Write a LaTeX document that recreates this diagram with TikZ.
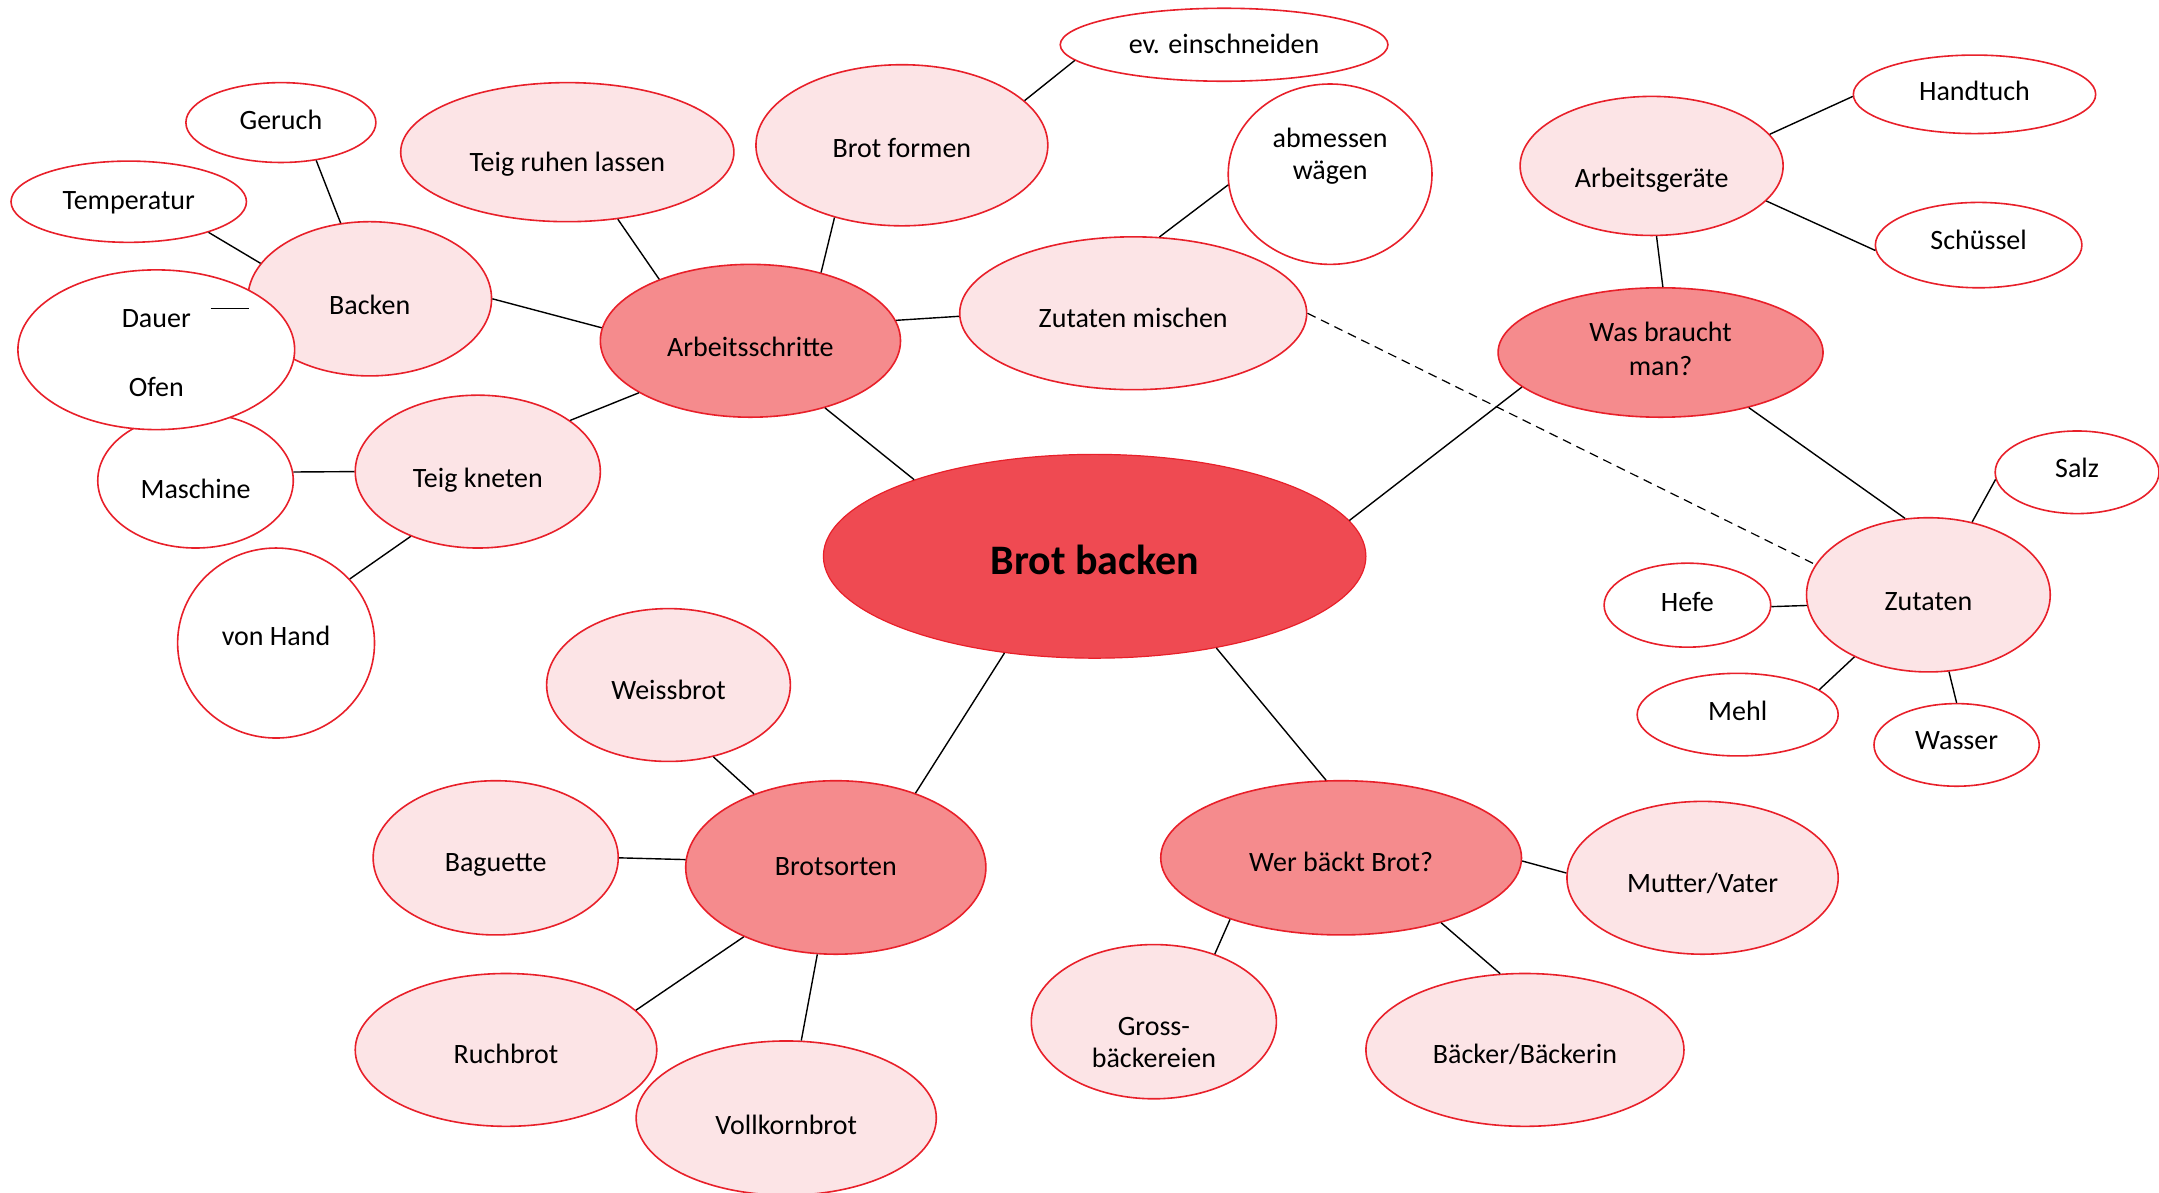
\documentclass[tikz,border=0pt]{standalone}
\usepackage{fontspec}
\setmainfont{Carlito}
\usetikzlibrary{shapes.geometric}
\definecolor{bred}{RGB}{232,32,42}
\definecolor{cdark}{RGB}{239,74,82}
\definecolor{cmid}{RGB}{245,139,141}
\definecolor{clight}{RGB}{252,228,230}
\newcommand\tx[2]{\raisebox{#1pt}[0pt][0pt]{\begin{tabular}{@{}c@{}}#2\end{tabular}}}
\tikzset{
  bub/.style={ellipse, draw=bred, line width=1.6pt, inner sep=0pt, align=center, font=\fontsize{28}{34}\selectfont},
  sz/.style 2 args={minimum width=#1*1.3769pt, minimum height=#2*1.3769pt},
  lvlzero/.style={bub, fill=cdark, line width=1.2pt, font=\fontsize{42}{50}\selectfont\bfseries},
  lvlone/.style={bub, fill=cmid},
  lvltwo/.style={bub, fill=clight},
  leaf/.style={bub, fill=white},
  con/.style={line width=1.4pt, black},
}
\begin{document}
\begin{tikzpicture}[x=1.3769pt, y=-1.3769pt]
\useasboundingbox (0,0) rectangle (1568,866);
% main
\node[lvlzero, sz={394}{148}] (bb) at (795,404) {\tx{-14}{Brot backen}};
\node[lvlone, sz={218}{111}] (ab) at (545,247.5) {\tx{-15.4}{Arbeitsschritte}};
\node[lvlone, sz={236}{94}] (wb) at (1206,256) {\tx{-5.8}{Was braucht\\man?}};
\node[lvlone, sz={218}{126}] (bs) at (607,630) {\tx{-7.8}{Brotsorten}};
\node[lvlone, sz={262}{112}] (wer) at (974,623) {\tx{-13.3}{Wer bäckt Brot?}};
% Arbeitsschritte branch
\node[lvltwo, sz={242}{101}] (tr) at (412,110.5) {\tx{-18.7}{Teig ruhen lassen}};
\node[lvltwo, sz={212}{117}] (bf) at (655,105.5) {\tx{-11.3}{Brot formen}};
\node[leaf, sz={238}{53}] (ev) at (889,32.5) {\tx{-8.5}{ev. einschneiden}};
\node[leaf, sz={148}{131}] (am) at (966,126.5) {\tx{10.8}{abmessen\\[-2pt]wägen}};
\node[lvltwo, sz={252}{111}] (zm) at (823,227.5) {\tx{-14}{Zutaten mischen}};
\node[leaf, sz={142}{98}] (ma) at (142,349) {\tx{-17.7}{Maschine}};
\node[lvltwo, sz={177}{112}] (ba) at (268.5,217) {\tx{-14.7}{Backen}};
\node[leaf, sz={138}{58}] (ge) at (204,89) {\tx{-6.4}{Geruch}};
\node[leaf, sz={171}{59}] (te) at (93.5,146.5) {\tx{-7.1}{Temperatur}};
\node[leaf, sz={201}{116}] (do) at (113.5,254) {\tx{-12}{Dauer\\[35pt]Ofen}};
\node[lvltwo, sz={178}{111}] (tk) at (347,342.5) {\tx{-15.4}{Teig kneten}};
\node[leaf, sz={143}{138}] (vh) at (200.5,467) {\tx{-1.9}{von Hand}};
% Was braucht man branch
\node[lvltwo, sz={191}{101}] (ag) at (1199.5,120.5) {\tx{-21.2}{Arbeitsgeräte}};
\node[leaf, sz={176}{57}] (ht) at (1434,68.5) {\tx{-5.8}{Handtuch}};
\node[leaf, sz={150}{62}] (sc) at (1437,178) {\tx{-3.7}{Schüssel}};
\node[lvltwo, sz={177}{112}] (zu) at (1400.5,432) {\tx{-14.7}{Zutaten}};
\node[leaf, sz={119}{60}] (sa) at (1508.5,343) {\tx{-5.1}{Salz}};
\node[leaf, sz={121}{61}] (he) at (1225.5,439.5) {\tx{-5.8}{Hefe}};
\node[leaf, sz={146}{60}] (me) at (1262,519) {\tx{-5.1}{Mehl}};
\node[leaf, sz={120}{60}] (wa) at (1421,541) {\tx{-3.7}{Wasser}};
% Brotsorten branch
\node[lvltwo, sz={177}{111}] (wei) at (485.5,497.5) {\tx{-14}{Weissbrot}};
\node[lvltwo, sz={178}{112}] (bag) at (360,623) {\tx{-13.3}{Baguette}};
\node[lvltwo, sz={219}{111}] (ru) at (367.5,762.5) {\tx{-12.6}{Ruchbrot}};
\node[lvltwo, sz={218}{112}] (vo) at (571,812) {\tx{-16.1}{Vollkornbrot}};
% Wer backt branch
\node[lvltwo, sz={178}{112}] (gr) at (838,742) {\tx{-29.2}{Gross-\\[-2pt]bäckereien}};
\node[lvltwo, sz={231}{111}] (bk) at (1107.5,762.5) {\tx{-12.6}{Bäcker/Bäckerin}};
\node[lvltwo, sz={197}{111}] (mu) at (1236.5,637.5) {\tx{-14}{Mutter/Vater}};
% stray line
\coordinate (s1) at (153,224);
\coordinate (s2) at (181,224);
\draw[con] (s1) -- (s2);
% connectors
\draw[con] (bb.157.4) -- (ab.-42.5);
\draw[con] (bb.8.6) -- (wb.194.8);
\draw[con] (bb.227.4) -- (bs.43.5);
\draw[con] (bb.-37.6) -- (wer.101.1);
\draw[con] (ab.146.6) -- (tr.-53);
\draw[con] (ab.44.7) -- (bf.227.6);
\draw[con] (ab.8.6) -- (zm.181.6);
\draw[con] (ab.175) -- (ba.0.6);
\draw[con] (ab.205.4) -- (tk.29.1);
\draw[con] (bf.20.4) -- (ev.186.6);
\draw[con] (zm.71.1) -- (am.186.6);
\draw[con, line width=1.2pt, dash pattern=on 9pt off 6pt] (zm.0.7) -- (zu.165.9);
\draw[con] (ba.111.7) -- (ge.-47.1);
\draw[con] (ba.162.3) -- (te.-21.4);
\draw[con] (tk.180) -- (ma.5.6);
\draw[con] (tk.224.1) -- (vh.41.1);
\draw[con] (wb.88.8) -- (ag.-86.1);
\draw[con] (ag.15.2) -- (ht.181);
\draw[con] (ag.-17) -- (sc.183);
\draw[con] (wb.-32) -- (zu.107.7);
\draw[con] (zu.59.9) -- (sa.185.8);
\draw[con] (zu.185.8) -- (he.-1.4);
\draw[con] (zu.220.2) -- (me.17.3);
\draw[con] (zu.-75.5) -- (wa.90);
\draw[con] (bs.138.8) -- (wei.-58.1);
\draw[con] (bs.177.4) -- (bag.0);
\draw[con] (bs.217.1) -- (ru.17.3);
\draw[con] (bs.258.3) -- (vo.79.6);
\draw[con] (wer.209) -- (gr.48.7);
\draw[con] (wer.-33.3) -- (bk.108.4);
\draw[con] (wer.-1.3) -- (mu.178);
\end{tikzpicture}
\end{document}
